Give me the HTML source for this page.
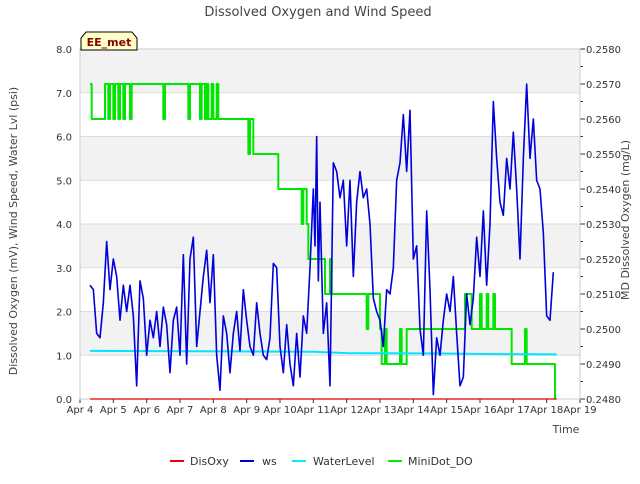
<!DOCTYPE html>
<html><head><meta charset="utf-8"><style>
body{margin:0;background:#fff;font-family:"DejaVu Sans","Liberation Sans",sans-serif}
svg text{font-family:"DejaVu Sans","Liberation Sans",sans-serif}
</style></head><body>
<svg id="c" width="640" height="480" xmlns="http://www.w3.org/2000/svg">
<rect width="640" height="480" fill="#fff"/>
<text x="318" y="16" text-anchor="middle" font-size="13" fill="#444">Dissolved Oxygen and Wind Speed</text>
<g id="plot"></g>
<text x="17" y="231" font-size="11" fill="#444" text-anchor="middle" transform="rotate(-90 17 231)">Dissolved Oxygen (mV), Wind Speed, Water Lvl (psi)</text>
<text x="629" y="220" font-size="11" fill="#444" text-anchor="middle" transform="rotate(-90 629 220)">MD Dissolved Oxygen (mg/L)</text>
<text x="566" y="433" font-size="11" fill="#444" text-anchor="middle">Time</text>
<g>
<path d="M81,50 L81,38 L86,32 L132,32 L137,38 L137,50 Z" fill="#ffffc8" stroke="#000" stroke-width="1"/>
<text x="109" y="46" text-anchor="middle" font-size="11" font-weight="bold" fill="#8b0000">EE_met</text>
</g>
<g>
<line x1="170" y1="461" x2="184" y2="461" stroke="#e00" stroke-width="2"/><text x="190" y="465" font-size="11" fill="#333">DisOxy</text>
<line x1="240" y1="461" x2="254" y2="461" stroke="#00c" stroke-width="2"/><text x="262" y="465" font-size="11" fill="#333">ws</text>
<line x1="292" y1="461" x2="306" y2="461" stroke="#0ef" stroke-width="2"/><text x="313" y="465" font-size="11" fill="#333">WaterLevel</text>
<line x1="388" y1="461" x2="402" y2="461" stroke="#0e0" stroke-width="2"/><text x="408" y="465" font-size="11" fill="#333">MiniDot_DO</text>
</g>
</svg>
<script>
const xTickLabels=["Apr 4","Apr 5","Apr 6","Apr 7","Apr 8","Apr 9","Apr 10","Apr 11","Apr 12","Apr 13","Apr 14","Apr 15","Apr 16","Apr 17","Apr 18","Apr 19"];
const yTicks=[0,1,2,3,4,5,6,7,8];
const y2Ticks=[0.248,0.249,0.25,0.251,0.252,0.253,0.254,0.255,0.256,0.257,0.258];
const wsT=[4.3,4.4,4.5,4.6,4.7,4.8,4.9,5.0,5.1,5.2,5.3,5.4,5.5,5.6,5.7,5.8,5.9,6.0,6.1,6.2,6.3,6.4,6.5,6.6,6.7,6.8,6.9,7.0,7.1,7.2,7.3,7.4,7.5,7.6,7.7,7.8,7.9,8.0,8.1,8.2,8.3,8.4,8.5,8.6,8.7,8.8,8.9,9.0,9.1,9.2,9.3,9.4,9.5,9.6,9.7,9.8,9.9,10.0,10.1,10.2,10.3,10.4,10.5,10.6,10.7,10.8,10.9,11.0,11.05,11.1,11.15,11.2,11.3,11.4,11.5,11.6,11.7,11.8,11.9,12.0,12.1,12.2,12.3,12.4,12.5,12.6,12.7,12.8,12.9,13.0,13.1,13.2,13.3,13.4,13.5,13.6,13.7,13.8,13.9,14.0,14.1,14.2,14.3,14.4,14.5,14.6,14.7,14.8,14.9,15.0,15.1,15.2,15.3,15.4,15.5,15.6,15.7,15.8,15.9,16.0,16.1,16.2,16.3,16.4,16.5,16.6,16.7,16.8,16.9,17.0,17.1,17.2,17.3,17.4,17.5,17.6,17.7,17.8,17.9,18.0,18.1,18.2];
const wsV=[2.6,2.5,1.5,1.4,2.2,3.6,2.5,3.2,2.8,1.8,2.6,2.0,2.6,1.9,0.3,2.7,2.3,1.0,1.8,1.4,2.0,1.2,2.1,1.7,0.6,1.8,2.1,1.0,3.3,0.8,3.2,3.7,1.2,2.0,2.8,3.4,2.2,3.3,1.0,0.2,1.9,1.5,0.6,1.5,2.0,1.1,2.5,1.8,1.2,1.0,2.2,1.5,1.0,0.9,1.4,3.1,3.0,1.2,0.6,1.7,0.8,0.3,1.5,0.5,1.9,1.5,3.0,4.8,3.5,6.0,2.7,4.5,1.5,2.2,0.3,5.4,5.2,4.6,5.0,3.5,5.0,2.8,4.5,5.2,4.6,4.8,4.0,2.3,2.0,1.8,1.2,2.5,2.4,3.0,5.0,5.4,6.5,5.2,6.6,3.2,3.5,1.6,1.0,4.3,2.5,0.1,1.4,1.0,1.8,2.4,2.0,2.8,1.5,0.3,0.5,2.4,1.7,2.3,3.7,2.8,4.3,2.6,4.0,6.8,5.5,4.5,4.2,5.5,4.8,6.1,4.8,3.2,5.5,7.2,5.5,6.4,5.0,4.8,3.8,1.9,1.8,2.9];
const doT=[4.3,4.35,4.7,4.75,4.85,4.9,5.0,5.05,5.15,5.2,5.3,5.35,5.5,5.55,6.45,6.5,6.55,7.2,7.25,7.3,7.55,7.6,7.65,7.75,7.8,7.85,7.95,8.0,8.1,8.15,8.2,9.0,9.05,9.1,9.2,9.9,9.95,10.6,10.65,10.7,10.8,10.85,11.1,11.3,11.35,11.5,11.55,12.0,12.1,12.55,12.6,12.65,13.0,13.05,13.15,13.2,13.5,13.6,13.65,13.8,13.85,15.5,15.55,15.7,15.75,16.0,16.05,16.2,16.25,16.4,16.45,16.5,16.55,16.9,16.95,17.35,17.4,17.6,17.65,18.2,18.25];
const doV=[0.257,0.256,0.256,0.257,0.256,0.257,0.256,0.257,0.256,0.257,0.256,0.257,0.256,0.257,0.257,0.256,0.257,0.257,0.256,0.257,0.257,0.256,0.257,0.256,0.257,0.256,0.257,0.256,0.257,0.256,0.256,0.256,0.255,0.256,0.255,0.255,0.254,0.254,0.253,0.254,0.253,0.252,0.252,0.252,0.251,0.252,0.251,0.251,0.251,0.251,0.250,0.251,0.250,0.249,0.250,0.249,0.249,0.250,0.249,0.250,0.250,0.250,0.251,0.251,0.250,0.251,0.250,0.251,0.250,0.251,0.250,0.250,0.250,0.250,0.249,0.250,0.249,0.249,0.249,0.249,0.248];
const wlT=[4.3,11.0,12.0,15.0,16.0,18.3];
const wlV=[1.1,1.08,1.05,1.04,1.03,1.02];
const dxT=[4.3,18.3];
const dxV=[0,0];
const NS="http://www.w3.org/2000/svg";
const L=80,R=580,T=49,B=399;
const xs=t=>L+(t-4)*(R-L)/15;
const ys=v=>B-v*(B-T)/8;
const ys2=v=>B-(v-0.248)*(B-T)/0.01;
const g=document.getElementById('plot');
function mk(tag,a){const e=document.createElementNS(NS,tag);for(const k in a)e.setAttribute(k,a[k]);g.appendChild(e);return e;}
for(let i=0;i<8;i++){if(i%2==1){const r=mk('rect',{x:L,y:ys(i+1),width:R-L,height:ys(i)-ys(i+1),fill:'#f2f2f2'});

}}
yTicks.forEach(v=>{const l=mk('line',{x1:L,x2:R,y1:ys(v),y2:ys(v),stroke:'#dcdcdc','stroke-width':1});


const t=mk('text',{x:L-8,y:ys(v)+4,'text-anchor':'end','font-size':10,fill:'#333'});t.textContent=v.toFixed(1);

});
y2Ticks.forEach(v=>{const y=ys2(v);mk('line',{x1:R,x2:R+5,y1:y,y2:y,stroke:'#333'});
const t=mk('text',{x:R+6,y:y+4,'font-size':10,fill:'#333'});t.textContent=v.toFixed(4);


if(v<0.258)mk('line',{x1:R,x2:R+3,y1:ys2(v+0.0005),y2:ys2(v+0.0005),stroke:'#333'});});
xTickLabels.forEach((s,i)=>{const x=xs(4+i);mk('line',{x1:x,x2:x,y1:B,y2:B+4,stroke:'#333'});
const t=mk('text',{x:x,y:B+14,'text-anchor':'middle','font-size':10,fill:'#333'});t.textContent=s;

});
mk('rect',{x:L,y:T,width:R-L,height:B-T,fill:'none',stroke:'#ccc'});
function line(ts,vs,sc,col,w,name,step){let d='';ts.forEach((t,i)=>{const x=xs(t),y=sc(vs[i]);if(i==0)d+='M'+x+','+y;else{if(step)d+='L'+x+','+sc(vs[i-1]);d+='L'+x+','+y;}});
const p=mk('path',{d:d,fill:'none',stroke:col,'stroke-width':w,'stroke-linejoin':'round'});

}
line(doT,doV,ys2,'#00e600',2,'minidot-do-line',true);
line(wlT,wlV,ys,'#00e5ff',2,'waterlevel-line',false);
line(wsT,wsV,ys,'#0000dd',1.6,'ws-line',false);
line(dxT,dxV,ys,'#dd0000',1.2,'disoxy-line',false);
</script>
</body></html>
